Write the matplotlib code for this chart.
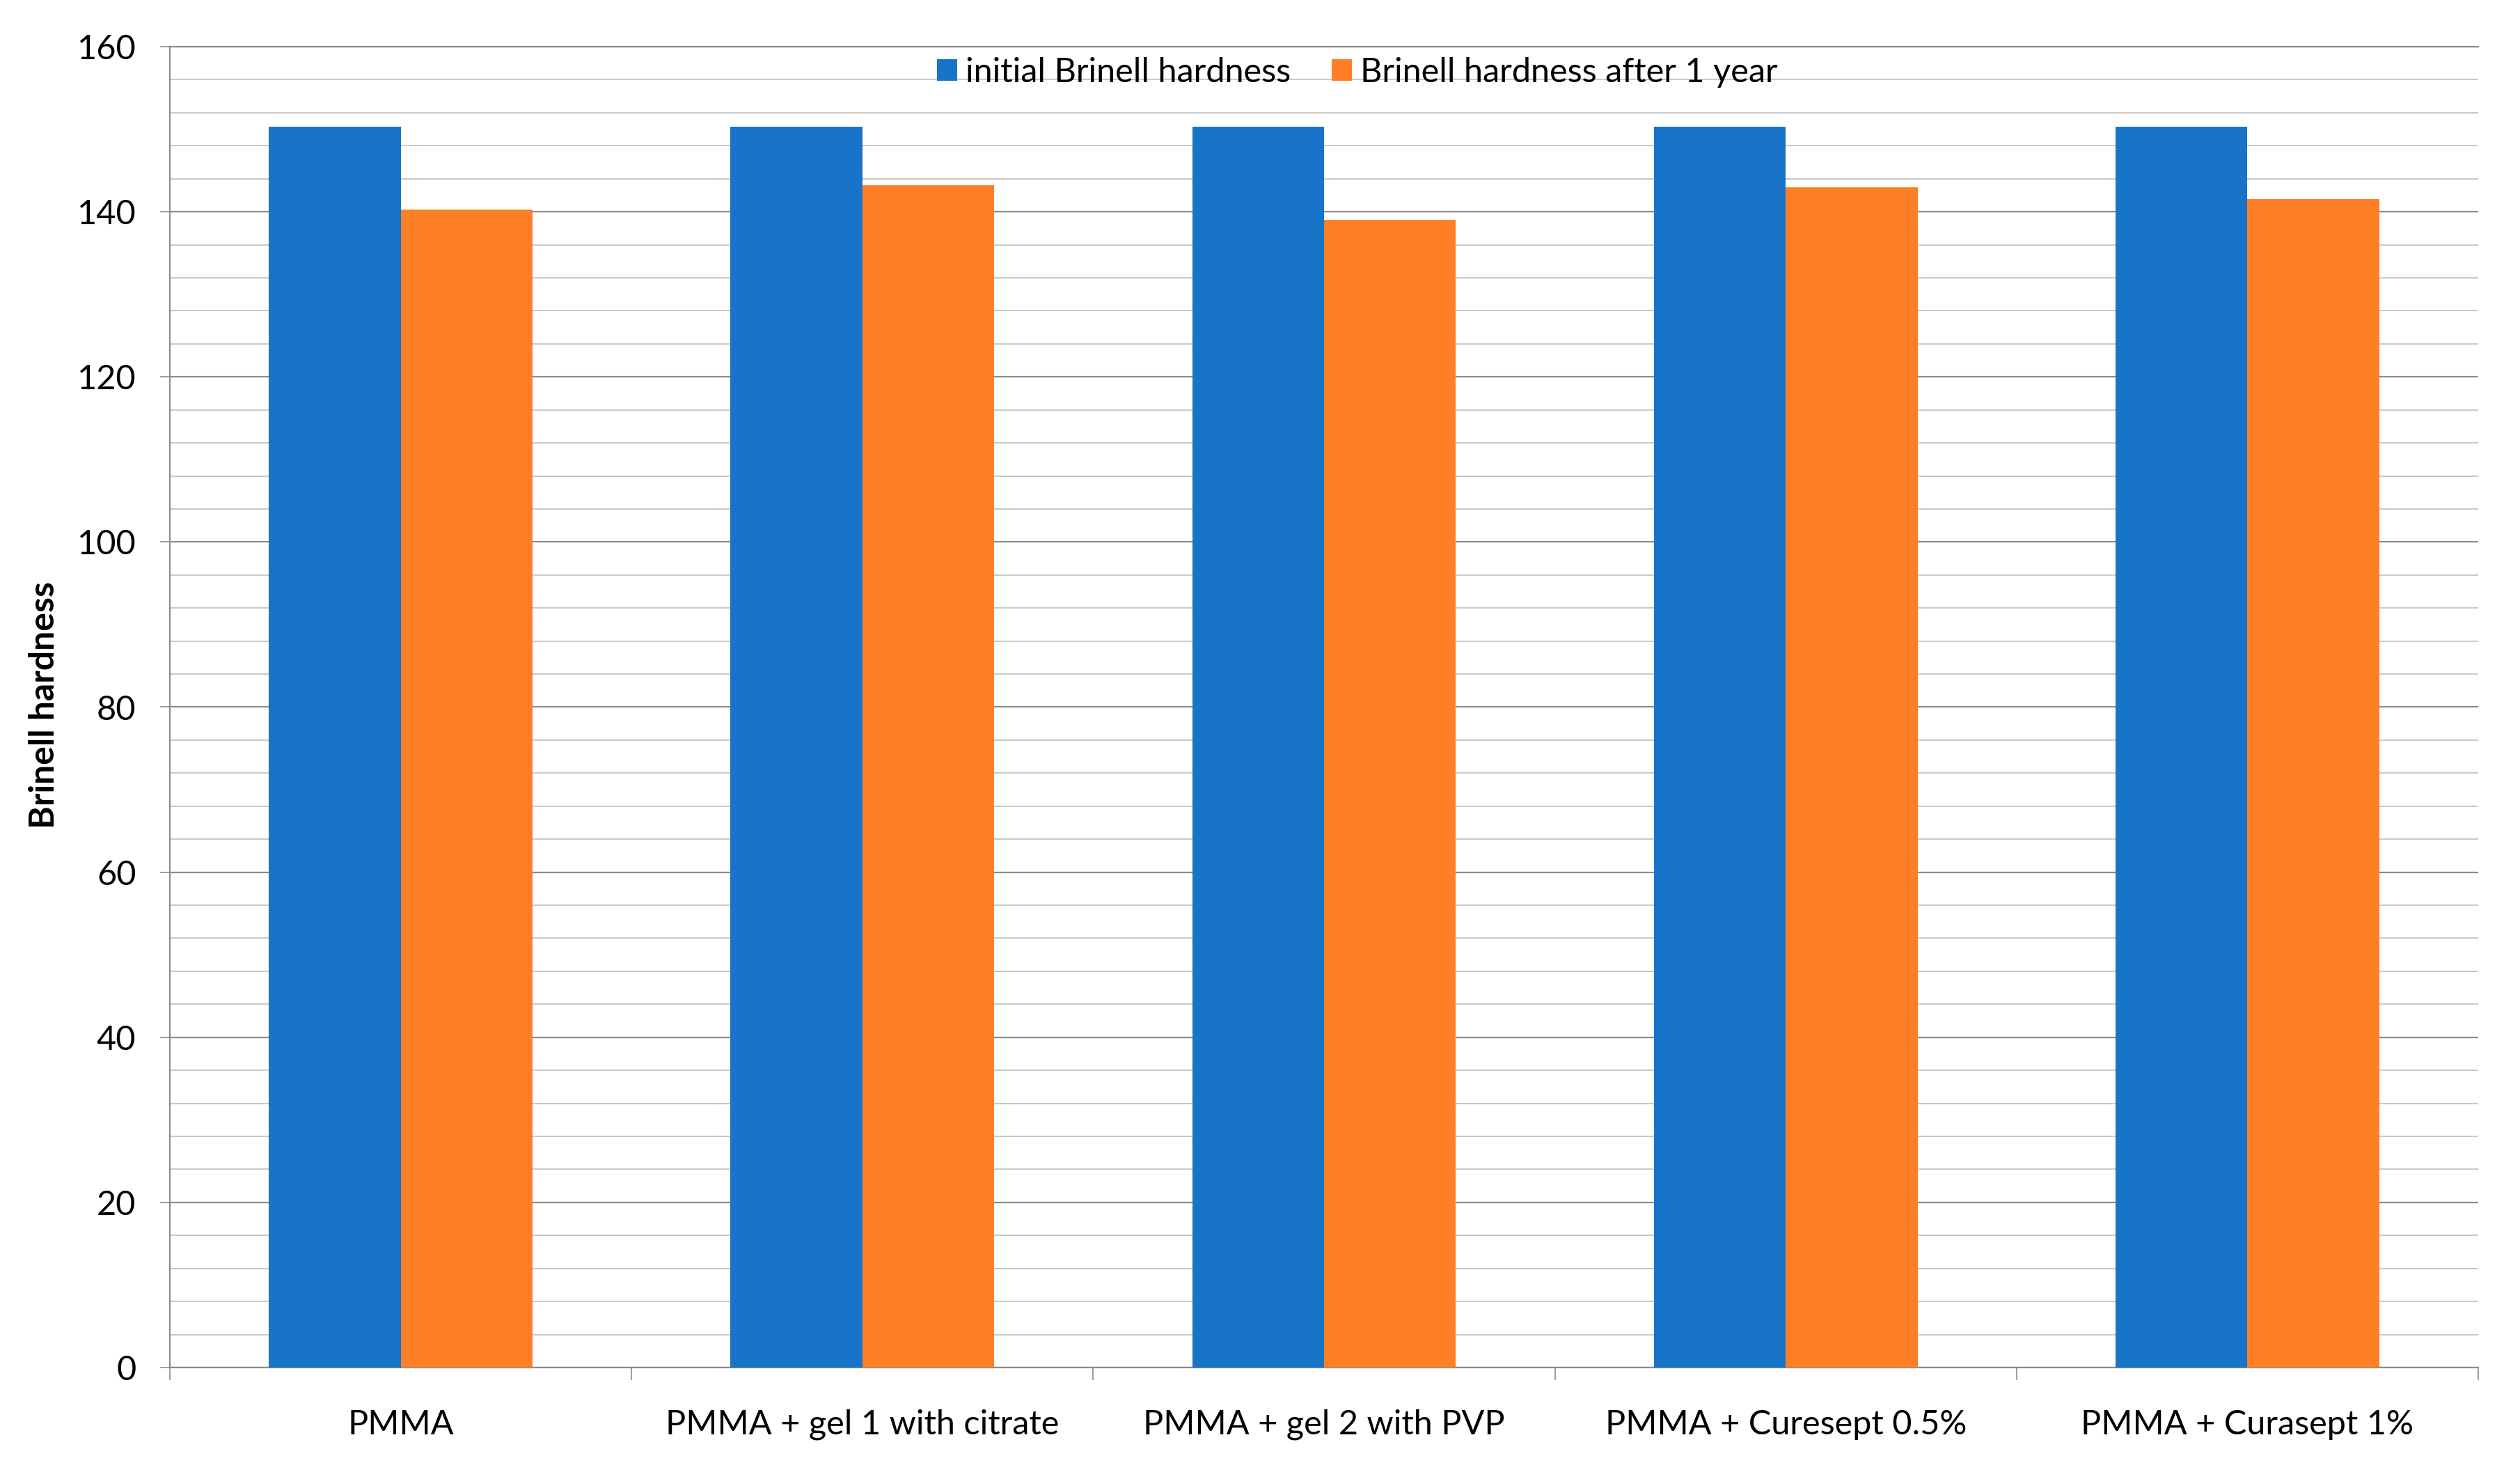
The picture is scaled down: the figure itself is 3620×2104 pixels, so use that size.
import matplotlib
matplotlib.use("Agg")
import matplotlib.pyplot as plt
import numpy as np
from matplotlib.ticker import MultipleLocator, FixedLocator, NullFormatter, FixedFormatter

categories = ["PMMA", "PMMA + gel 1 with citrate", "PMMA + gel 2 with PVP",
              "PMMA + Curesept 0.5%", "PMMA + Curasept 1%"]
initial_hardness = [150.3, 150.3, 150.3, 150.3, 150.3]
after_1_year = [140.3, 143.2, 139.0, 143.0, 141.5]
series_names = ["initial Brinell hardness", "Brinell hardness after 1 year"]
y_ticks = [0, 20, 40, 60, 80, 100, 120, 140, 160]

BLUE = "#1874C8"
ORANGE = "#FF7F27"
MAJ = "#8c8c8c"
MIN = "#c8c8c8"

plt.rcParams['font.family'] = ['Lato', 'DejaVu Sans']

W, H = 3620, 2104
fig = plt.figure(figsize=(W / 100, H / 100), dpi=100)
ax = fig.add_axes([244 / W, 140 / H, (3560 - 244) / W, (1964 - 67) / H])

x = np.arange(len(categories))
bw = 1 / 3.5
ax.bar(x - bw / 2, initial_hardness, width=bw, color=BLUE, label=series_names[0], zorder=3)
ax.bar(x + bw / 2, after_1_year, width=bw, color=ORANGE, label=series_names[1], zorder=3)

ax.set_xlim(-0.5, len(categories) - 0.5)
ax.set_ylim(0, 160)

ax.yaxis.set_major_locator(FixedLocator(y_ticks))
ax.yaxis.set_minor_locator(MultipleLocator(4))
ax.grid(which='major', axis='y', color=MAJ, linewidth=1.6, zorder=1)
ax.grid(which='minor', axis='y', color=MIN, linewidth=1.4, zorder=1)
ax.tick_params(axis='y', which='major', length=10, width=1.2, color=MAJ, pad=25, labelsize=35)
ax.tick_params(axis='y', which='minor', length=0)

# x axis: ticks at category boundaries, labels at centers
ax.xaxis.set_major_locator(FixedLocator(np.arange(len(categories) + 1) - 0.5))
ax.xaxis.set_major_formatter(NullFormatter())
ax.xaxis.set_minor_locator(FixedLocator(x))
ax.xaxis.set_minor_formatter(FixedFormatter(categories))
ax.tick_params(axis='x', which='major', length=13, width=1.2, color=MAJ, direction='out')
ax.tick_params(axis='x', which='minor', length=0, pad=43, labelsize=35)

for s in ['left', 'bottom', 'top']:
    ax.spines[s].set_color(MAJ)
    ax.spines[s].set_linewidth(1.6)
ax.spines['right'].set_visible(False)
ax.set_axisbelow(True)

fig.text(63 / W, 1 - 1012 / H, "Brinell hardness", rotation=90, fontsize=36,
         fontweight='bold', ha='center', va='center')

leg = fig.legend(loc='center', bbox_to_anchor=(1950 / W, 1 - 104 / H), ncol=2, frameon=False,
                 fontsize=35, handlelength=0.6, handleheight=0.6, handletextpad=0.25,
                 columnspacing=1.2, borderpad=0)

fig.savefig("out.png", dpi=100, facecolor='white')
